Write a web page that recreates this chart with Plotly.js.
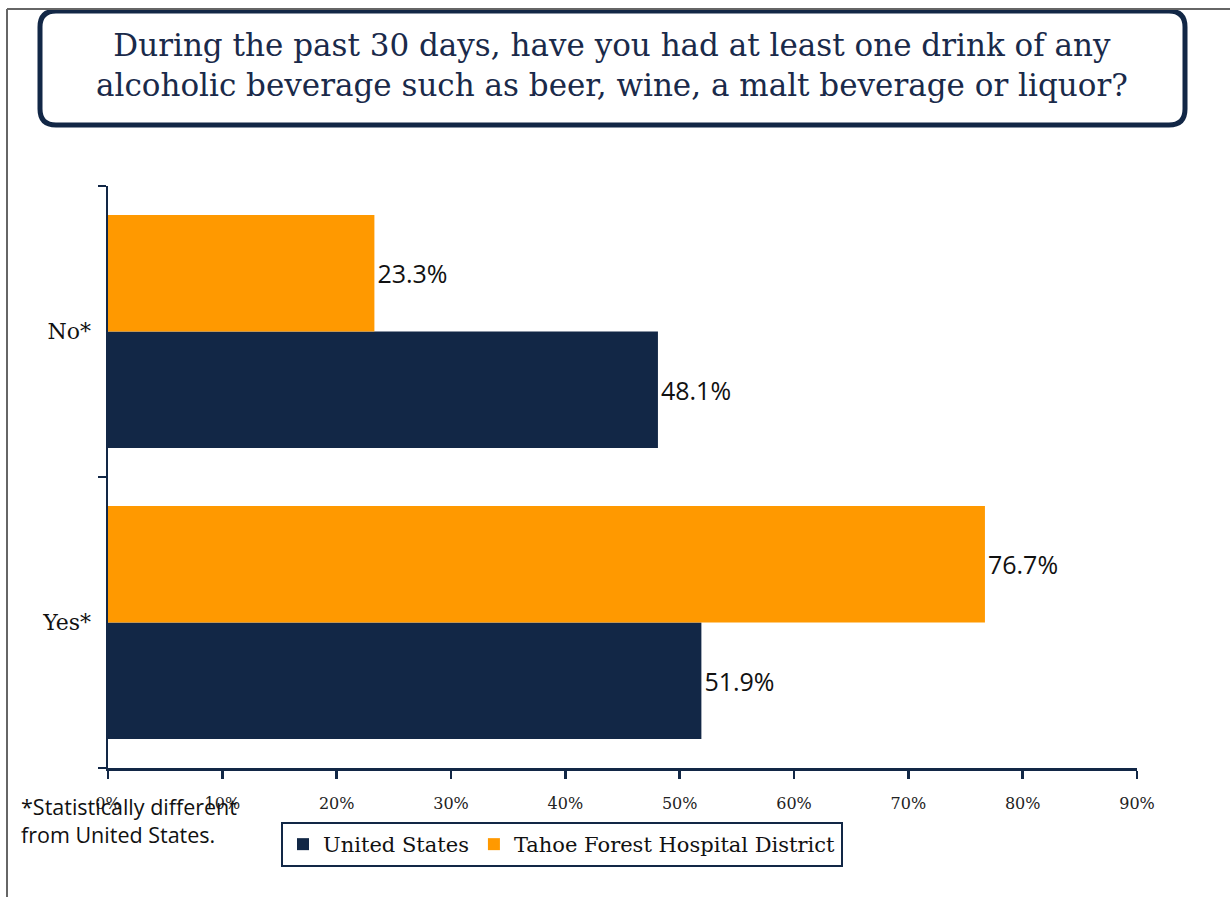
<!DOCTYPE html>
<html>
<head>
<meta charset="utf-8">
<script src="https://cdn.plot.ly/plotly-3.0.1.min.js"></script>
<style>
html,body{margin:0;padding:0;background:#fff;}
#chart{width:1230px;height:897px;}
</style>
</head>
<body>
<div id="chart"></div>
<script>
// ---- data ----
const categories = ["Yes*", "No*"];
const seriesNames = ["United States", "Tahoe Forest Hospital District"];
const usValues = [51.9, 48.1];
const tahoeValues = [76.7, 23.3];
const xTickVals = [0, 10, 20, 30, 40, 50, 60, 70, 80, 90];
const xTickLabels = ["0%", "10%", "20%", "30%", "40%", "50%", "60%", "70%", "80%", "90%"];
const titleText = "During the past 30 days, have you had at least one drink of any<br>alcoholic beverage such as beer, wine, a malt beverage or liquor?";
const footnoteText = "*Statistically different<br>from United States.";

// ---- layout helpers ----
const W = 1230, H = 897;
const M = {l: 108, r: 93, t: 186, b: 129};
const PW = W - M.l - M.r, PH = H - M.t - M.b;
const px = x => (x - M.l) / PW;
const py = y => (H - M.b - y) / PH;

const navy = "#122746";
const orange = "#FF9900";
const serif = "DejaVu Serif, Liberation Serif, serif";

function roundRect(x0, y0, x1, y1, r) {
  const p = [];
  p.push(`M ${px(x0 + r)} ${py(y0)}`);
  p.push(`L ${px(x1 - r)} ${py(y0)}`);
  p.push(`Q ${px(x1)} ${py(y0)} ${px(x1)} ${py(y0 + r)}`);
  p.push(`L ${px(x1)} ${py(y1 - r)}`);
  p.push(`Q ${px(x1)} ${py(y1)} ${px(x1 - r)} ${py(y1)}`);
  p.push(`L ${px(x0 + r)} ${py(y1)}`);
  p.push(`Q ${px(x0)} ${py(y1)} ${px(x0)} ${py(y1 - r)}`);
  p.push(`L ${px(x0)} ${py(y0 + r)}`);
  p.push(`Q ${px(x0)} ${py(y0)} ${px(x0 + r)} ${py(y0)}`);
  p.push("Z");
  return p.join(" ");
}

const textFont = {family: "Open Sans, Noto Sans, sans-serif", size: 25, color: "#111"};

const traces = [
  {
    type: "bar", orientation: "h", name: seriesNames[0],
    y: categories, x: usValues,
    marker: {color: navy},
    text: usValues.map(v => v.toFixed(1) + "%"),
    textposition: "outside", textfont: textFont, cliponaxis: false
  },
  {
    type: "bar", orientation: "h", name: seriesNames[1],
    y: categories, x: tahoeValues,
    marker: {color: orange},
    text: tahoeValues.map(v => v.toFixed(1) + "%"),
    textposition: "outside", textfont: textFont, cliponaxis: false
  }
];

const layout = {
  width: W, height: H,
  margin: M,
  paper_bgcolor: "#fff", plot_bgcolor: "#fff",
  barmode: "group", bargap: 0.2, bargroupgap: 0,
  hovermode: false,
  showlegend: true,
  legend: {
    orientation: "h", traceorder: "normal",
    x: px(281), y: py(822), xanchor: "left", yanchor: "top",
    bordercolor: navy, borderwidth: 2, bgcolor: "#fff",
    font: {family: serif, size: 21, color: "#111"},
    itemwidth: 30
  },
  xaxis: {
    range: [0, 90], tickvals: xTickVals, ticktext: xTickLabels,
    showgrid: false, zeroline: false,
    showline: true, linecolor: navy, linewidth: 2.5,
    ticks: "outside", ticklen: 8, tickwidth: 2.5, tickcolor: navy,
    ticklabelstandoff: 11,
    tickfont: {family: serif, size: 16, color: "#222"},
    fixedrange: true
  },
  yaxis: {
    type: "category", categoryorder: "array", categoryarray: categories,
    showgrid: false, zeroline: false,
    showline: true, linecolor: navy, linewidth: 2.5,
    ticks: "outside", tickson: "boundaries", ticklen: 8, tickwidth: 2.5, tickcolor: navy,
    ticklabelstandoff: 10,
    tickfont: {family: serif, size: 22, color: "#111"},
    fixedrange: true
  },
  annotations: [
    {
      xref: "paper", yref: "paper", x: px(612), y: py(65),
      xanchor: "center", yanchor: "middle", showarrow: false,
      text: titleText, align: "center",
      font: {family: serif, size: 31, color: "#1a2a4a"}
    },
    {
      xref: "paper", yref: "paper", x: px(19), y: py(790),
      xanchor: "left", yanchor: "top", showarrow: false,
      text: footnoteText, align: "left",
      font: {family: "Open Sans, Noto Sans, sans-serif", size: 21.5, color: "#111"}
    }
  ],
  shapes: [
    {type: "line", xref: "paper", yref: "paper", x0: px(7), x1: px(7), y0: py(9), y1: py(897),
     line: {color: "#666", width: 2}},
    {type: "line", xref: "paper", yref: "paper", x0: px(7), x1: px(1230), y0: py(9), y1: py(9),
     line: {color: "#666", width: 2}},
    {type: "path", xref: "paper", yref: "paper", path: roundRect(40, 11, 1185, 125, 16),
     fillcolor: "#fff", line: {color: navy, width: 5}, layer: "below"}
  ]
};

Plotly.newPlot("chart", traces, layout, {displayModeBar: false, staticPlot: true});
</script>
</body>
</html>
